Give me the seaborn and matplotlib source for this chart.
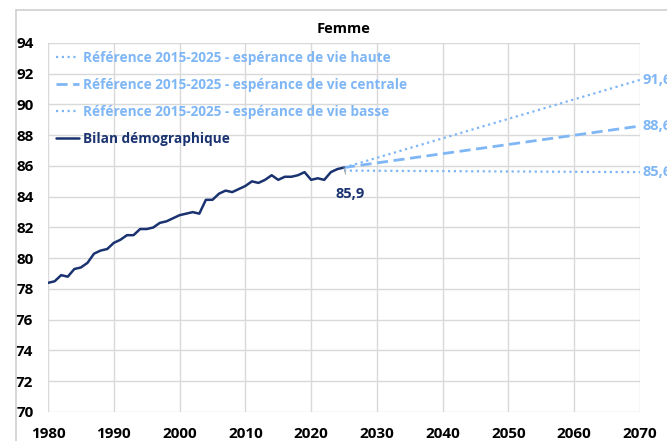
import numpy as np
import pandas as pd
import matplotlib.pyplot as plt
from matplotlib.lines import Line2D
import seaborn as sns

# Observed female life expectancy (Bilan démographique)
years_obs = list(range(1980, 2026))
life_obs = [78.4, 78.5, 78.9, 78.8, 79.3, 79.4, 79.7, 80.3, 80.5, 80.6,
            81.0, 81.2, 81.5, 81.5, 81.9, 81.9, 82.0, 82.3, 82.4, 82.6,
            82.8, 82.9, 83.0, 82.9, 83.8, 83.8, 84.2, 84.4, 84.3, 84.5,
            84.7, 85.0, 84.9, 85.1, 85.4, 85.1, 85.3, 85.3, 85.4, 85.6,
            85.1, 85.2, 85.1, 85.6, 85.8, 85.9]

# Projection scenarios (start and end points)
years_proj = [2025, 2070]
proj_haute = [85.9, 91.6]
proj_centrale = [85.9, 88.6]
proj_basse = [85.7, 85.6]

label_haute = "Référence 2015-2025 - espérance de vie haute"
label_centrale = "Référence 2015-2025 - espérance de vie centrale"
label_basse = "Référence 2015-2025 - espérance de vie basse"
label_obs = "Bilan démographique"

light_blue = "#7fb6f5"
navy = "#1a3370"

sns.set_theme(style="whitegrid")
plt.rcParams['font.family'] = ['Open Sans', 'DejaVu Sans']

fig = plt.figure(figsize=(6.67, 4.41), dpi=100)
ax = fig.add_axes([0.072, 0.0658, 0.8875, 0.8367])

# light frame around the chart (Excel chart area), left and top edges
x0, y0 = 15.5 / 667, 1 - 9.5 / 441
fig.add_artist(Line2D([x0, x0], [0, y0], transform=fig.transFigure,
                      color="#d0d0d0", lw=1.2))
fig.add_artist(Line2D([x0, 1], [y0, y0], transform=fig.transFigure,
                      color="#d0d0d0", lw=1.2))

sns.lineplot(x=years_proj, y=proj_haute, ax=ax, color=light_blue, lw=1.6,
             linestyle=(0, (1, 1.6)), label=label_haute)
sns.lineplot(x=years_proj, y=proj_centrale, ax=ax, color=light_blue, lw=2.0,
             linestyle=(0, (4, 2)), label=label_centrale)
sns.lineplot(x=years_proj, y=proj_basse, ax=ax, color=light_blue, lw=1.6,
             linestyle=(0, (1, 1.6)), label=label_basse)
sns.lineplot(x=years_obs, y=life_obs, ax=ax, color=navy, lw=1.8,
             label=label_obs)

ax.set_xlim(1980, 2070)
ax.set_ylim(70, 94)
ax.set_xticks(range(1980, 2071, 10))
ax.set_yticks(range(70, 95, 2))
ax.set_xlabel("")
ax.set_ylabel("")
ax.grid(True, color="#d9d9d9", lw=1.0)
for s in ax.spines.values():
    s.set_visible(False)
ax.tick_params(axis="both", length=0, labelsize=11, labelcolor="black")
ax.tick_params(axis="y", pad=10.5)
ax.tick_params(axis="x", pad=10.5)
for t in ax.get_xticklabels() + ax.get_yticklabels():
    t.set_fontweight("bold")

ax.set_title("Femme", fontsize=10.5, fontweight="bold", color="black", pad=7)

# end labels (cut by the right edge, as in the original)
for v in [proj_haute[-1], proj_centrale[-1], proj_basse[-1]]:
    ax.annotate(f"{v:.1f}".replace(".", ","), xy=(2070, v), xytext=(2, 0),
                textcoords="offset points", ha="left", va="center",
                color=light_blue, fontsize=10.5, fontweight="bold",
                annotation_clip=False)

ax.annotate(f"{life_obs[-1]:.1f}".replace(".", ","), xy=(years_obs[-1], life_obs[-1]),
            xytext=(-6, -19), textcoords="offset points", ha="left", va="center",
            color=navy, fontsize=10.5, fontweight="bold",
            arrowprops=dict(arrowstyle="-", color="#a6a6a6", lw=0.8,
                            shrinkA=7, shrinkB=0))

leg = ax.legend(loc="upper left", bbox_to_anchor=(0.0, 1.0), frameon=False,
                fontsize=9.8, handlelength=1.7, handletextpad=0.3,
                labelspacing=0.95, borderaxespad=0.0, borderpad=0.6)
for text, col in zip(leg.get_texts(), [light_blue, light_blue, light_blue, navy]):
    text.set_color(col)
    text.set_fontweight("bold")

fig.savefig("out.png", dpi=100)
